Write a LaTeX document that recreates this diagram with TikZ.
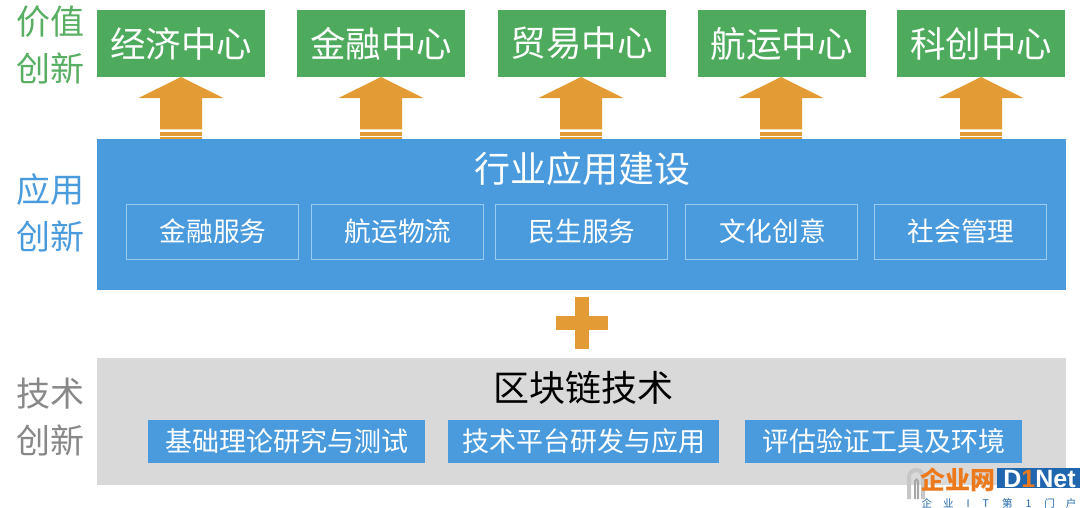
\documentclass[tikz,border=0pt]{standalone}
\usepackage{fontspec}
\setmainfont{Noto Sans CJK SC}
\newfontfamily\lat{Liberation Sans}
\definecolor{cgreen}{HTML}{4EAA5C}
\definecolor{cblue}{HTML}{4A9BDD}
\definecolor{corange}{HTML}{E39B36}
\definecolor{cgray}{HTML}{D9D9D9}
\definecolor{ctgreen}{HTML}{58AE62}
\definecolor{ctgray}{HTML}{888888}
\definecolor{cline}{HTML}{9CCBF0}
\definecolor{wmblue}{HTML}{1F66AE}
\definecolor{wmorange}{HTML}{EC7A1C}
\tikzset{x=1pt,y=-1pt,
 box/.style={anchor=center,inner sep=0pt,outer sep=0pt,text=white},
 valuebox/.style={box,fill=cgreen,minimum width=168pt,minimum height=67pt,font=\fontsize{35.5}{36}\selectfont},
 appbox/.style={box,draw=cline,line width=0.7pt,minimum width=172pt,minimum height=55pt,font=\fontsize{26.7}{27}\selectfont},
 techbox/.style={box,fill=cblue,minimum height=43pt,font=\fontsize{27}{27}\selectfont},
 sidelabel/.style={anchor=center,inner sep=0pt,font=\fontsize{34}{34}\selectfont},
 panel/.style={anchor=center,inner sep=0pt,minimum width=969pt},
 uparrow/.pic={
  \fill[corange] (0,0)--(42.5,21)--(21,21)--(21,52.3)--(-21,52.3)--(-21,21)--(-42.5,21)--cycle;
  \fill[corange] (-21,55)rectangle(21,58.7);
  \fill[corange] (-21,60)rectangle(21,62);
 }}
\begin{document}
\begin{tikzpicture}
\useasboundingbox (0,0) rectangle (1080,507);
% side labels
\node[sidelabel,text=ctgreen] (s1a) at (50.5,22) {价值};
\node[sidelabel,text=ctgreen] (s1b) at (50.5,68) {创新};
\node[sidelabel,text=cblue] (s2a) at (50.5,190) {应用};
\node[sidelabel,text=cblue] (s2b) at (50.5,236) {创新};
\node[sidelabel,text=ctgray] (s3a) at (50.5,394) {技术};
\node[sidelabel,text=ctgray] (s3b) at (50.5,440) {创新};
% top row
\node[valuebox] (v1) at (181,43.5) {经济中心};
\node[valuebox] (v2) at (381,43.5) {金融中心};
\node[valuebox] (v3) at (581.5,43.5) {贸易中心};
\node[valuebox] (v4) at (781.5,43.5) {航运中心};
\node[valuebox] (v5) at (981,43.5) {科创中心};
% panels
\node[panel,fill=cblue,minimum height=151pt] (app) at (581.5,214.5) {};
\node[panel,fill=cgray,minimum height=127pt] (tech) at (581.5,421.5) {};
% arrows
\foreach \x in {181,381,581,781,981} \pic at (\x,77) {uparrow};
% app panel
\node[box,font=\fontsize{36}{36}\selectfont] (apptitle) at (582,169) {行业应用建设};
\node[appbox] (a1) at (212,231.5) {\hspace{2pt}金融服务};
\node[appbox] (a2) at (397,231.5) {\hspace{2pt}航运物流};
\node[appbox] (a3) at (581,231.5) {\hspace{2pt}民生服务};
\node[appbox] (a4) at (771.5,231.5) {\hspace{2pt}文化创意};
\node[appbox] (a5) at (960,231.5) {\hspace{2pt}社会管理};
% plus
\fill[corange] (575,296.5) rectangle (589,349);
\fill[corange] (556,316) rectangle (608,330);
% tech panel
\node[box,text=black,font=\fontsize{36}{36}\selectfont] (techtitle) at (583,388) {区块链技术};
\node[techbox,minimum width=277pt] (t1) at (286.5,441.5) {基础理论研究与测试};
\node[techbox,minimum width=271pt] (t2) at (583.5,441.5) {技术平台研发与应用};
\node[techbox,minimum width=277pt] (t3) at (883.5,441.5) {评估验证工具及环境};
% watermark
\fill[wmblue] (997,468) rectangle (1080,488);
\draw[gray!45,line width=4pt] (909,499)--(909,477) arc[start angle=180,end angle=360,radius=7]--(923,499);
\draw[gray!70,line width=2pt] (915,499)--(915,481) arc[start angle=180,end angle=360,radius=1.5]--(918,499);
\node[anchor=center,inner sep=0pt,text=wmorange,font=\bfseries\fontsize{25}{25}\selectfont] (wmcn) at (957.5,480) {企业网};
\node[anchor=center,inner sep=0pt,text=white,font=\lat\bfseries\fontsize{25}{25}\selectfont] (wmen) at (1039.5,479) {D\textcolor{wmorange}{1}Net};
\node[anchor=center,inner sep=0pt,text=wmblue,font=\fontsize{10.5}{11}\selectfont] (wmsub) at (999,503) {企\hspace{11pt}业\hspace{13pt}I\hspace{13pt}T\hspace{13pt}第\hspace{13pt}1\hspace{13pt}门\hspace{11pt}户};
\end{tikzpicture}
\end{document}
